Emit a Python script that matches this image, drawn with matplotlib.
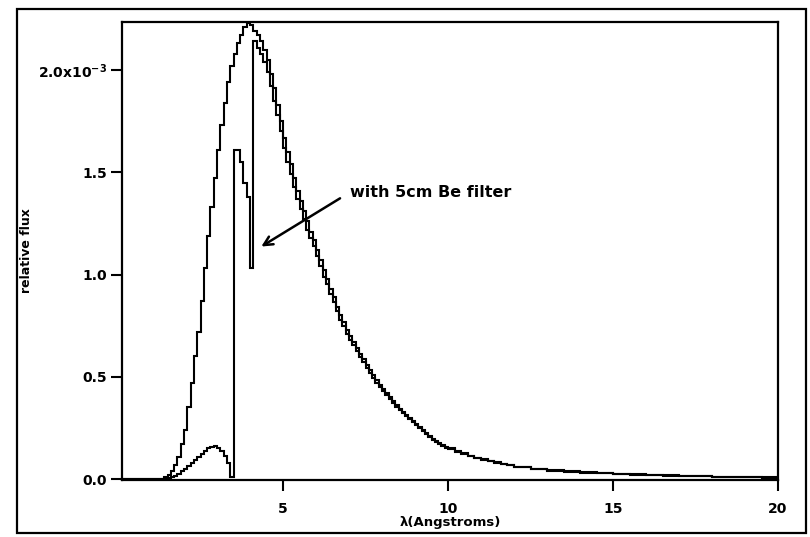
import numpy as np
import matplotlib
matplotlib.use('Agg')
import matplotlib.pyplot as plt
from matplotlib.patches import Rectangle

# wavelength bin edges (Angstroms): 0.1 wide up to 10, 0.2 up to 12, 0.5 up to 20
edges = np.concatenate([[0.0], np.arange(14, 100) / 10, np.arange(50, 60) / 5, np.arange(24, 41) / 2])

# relative flux per bin, units of 1e-3
flux_open = [0.0,
    # 1.4 - 6.0
    0.01, 0.02, 0.04, 0.07, 0.11, 0.17, 0.24, 0.35, 0.47, 0.60,
    0.72, 0.87, 1.03, 1.19, 1.33, 1.47, 1.61, 1.73, 1.84, 1.94,
    2.02, 2.08, 2.13, 2.17, 2.21, 2.23, 2.22, 2.19, 2.17, 2.14,
    2.10, 2.05, 1.98, 1.91, 1.83, 1.75, 1.67, 1.60, 1.54, 1.47,
    1.41, 1.36, 1.31, 1.26, 1.21, 1.17,
    # 6.0 - 10.0
    1.12, 1.07, 1.02, 0.98, 0.93, 0.89, 0.84, 0.80, 0.77, 0.73,
    0.70, 0.67, 0.64, 0.61, 0.585, 0.56, 0.535, 0.51, 0.485, 0.46,
    0.44, 0.42, 0.40, 0.38, 0.36, 0.345, 0.33, 0.315, 0.30, 0.285,
    0.27, 0.255, 0.24, 0.225, 0.21, 0.198, 0.187, 0.177, 0.167, 0.158,
    # 10 - 12
    0.150, 0.137, 0.125, 0.115, 0.105, 0.096, 0.088, 0.081, 0.075, 0.069,
    # 12 - 20
    0.058, 0.049, 0.042, 0.037, 0.033, 0.030, 0.026, 0.023,
    0.020, 0.018, 0.016, 0.014, 0.012, 0.011, 0.009, 0.008]

# same spectrum after 5cm of Be
flux_be = [0.0,
    0.002, 0.005, 0.010, 0.017, 0.026, 0.037, 0.050, 0.064, 0.079, 0.094,
    0.108, 0.122, 0.137, 0.151, 0.158, 0.160, 0.152, 0.138, 0.115, 0.080,
    0.010, 1.61, 1.61, 1.55, 1.45, 1.38, 1.03, 2.14, 2.11, 2.08,
    2.04, 1.99, 1.92, 1.85, 1.78, 1.70, 1.62, 1.55, 1.49, 1.43,
    1.37, 1.32, 1.27, 1.22, 1.18, 1.14,
    1.09, 1.04, 0.99, 0.955, 0.905, 0.865, 0.82, 0.78, 0.75, 0.71,
    0.68, 0.655, 0.625, 0.595, 0.57, 0.545, 0.52, 0.495, 0.47, 0.45,
    0.43, 0.41, 0.39, 0.37, 0.352, 0.336, 0.322, 0.307, 0.292, 0.278,
    0.263, 0.249, 0.234, 0.22, 0.205, 0.193, 0.182, 0.172, 0.163, 0.154,
    0.147, 0.134, 0.122, 0.113, 0.103, 0.094, 0.086, 0.079, 0.073, 0.068,
    0.057, 0.048, 0.041, 0.036, 0.032, 0.029, 0.025, 0.022,
    0.019, 0.017, 0.015, 0.013, 0.011, 0.010, 0.008, 0.007]

xticks = [5, 10, 15, 20]
yticks = [0.0, 0.5, 1.0, 1.5, 2.0]
yticklabels = ['0.0', '0.5', '1.0', '1.5', '2.0x10$^{-3}$']

plt.rcParams['font.family'] = ['DejaVu Sans']
plt.rcParams['font.weight'] = 'bold'
plt.rcParams['mathtext.default'] = 'regular'

fig = plt.figure(figsize=(8.1, 5.37), dpi=100)
ax = fig.add_axes([0.1506, 0.106, 0.8099, 0.853])

ax.stairs(flux_open, edges, color='black', lw=1.5, baseline=None)
ax.stairs(flux_be, edges, color='black', lw=1.5, baseline=None)

ax.set_xlim(0.12, 20)
ax.set_ylim(-0.005, 2.235)
ax.set_xticks(xticks)
ax.set_yticks(yticks)
ax.set_yticklabels(yticklabels)
ax.tick_params(direction='out', length=8, width=1.5, labelsize=10, pad=3)
ax.tick_params(axis='x', pad=8)
for s in ax.spines.values():
    s.set_linewidth(1.6)

ax.set_xlabel(u'\u03bb(Angstroms)', fontsize=9.5, fontweight='bold', labelpad=0)
ax.set_ylabel('relative flux', fontsize=9, fontweight='bold')
ax.yaxis.set_label_coords(-0.136, 0.5)

ax.annotate('', xy=(4.27, 1.13), xytext=(6.8, 1.38),
            arrowprops=dict(arrowstyle='->', color='black', lw=1.8, mutation_scale=16))
ax.text(7.03, 1.40, 'with 5cm Be filter', fontsize=11.5, fontweight='bold', ha='left', va='center')

# outer border round the whole figure
fig.patches.append(Rectangle((0.021, 0.008), 0.974, 0.975, transform=fig.transFigure,
                             fill=False, edgecolor='black', lw=1.6))

fig.savefig('out.png', dpi=100)
